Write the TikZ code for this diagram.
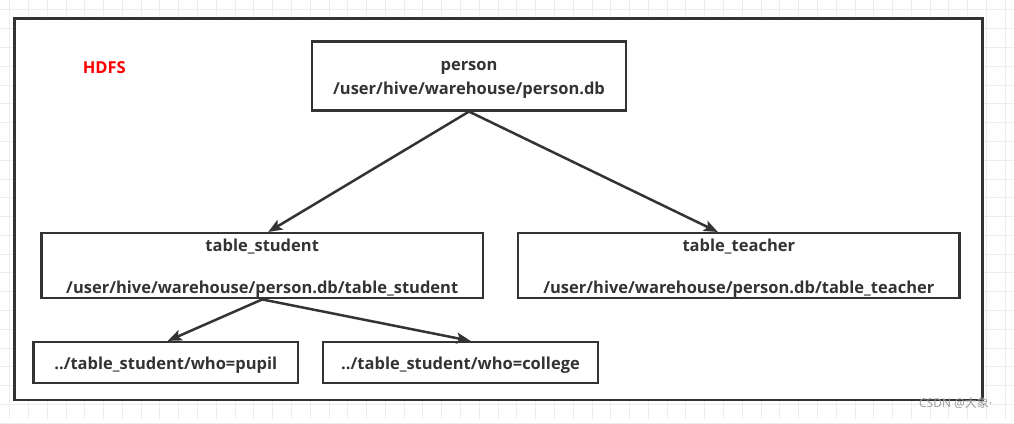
\documentclass[tikz,border=0pt]{standalone}
\usepackage{fontspec}
\setmainfont{Open Sans}
\newfontfamily\cjk{Noto Sans CJK SC}
\usetikzlibrary{arrows.meta}
\definecolor{ink}{HTML}{333333}
\definecolor{gridline}{HTML}{EDEDED}
\newcommand\boxstrut{\rule[-5pt]{0pt}{23pt}}
\begin{document}
\begin{tikzpicture}[x=1pt,y=-1pt, line width=2.5pt, font=\fontsize{16.5}{21}\selectfont\bfseries,
 box/.style={draw=ink, text=ink, inner sep=0pt, align=center, minimum width=#1},
 arr/.style={draw=ink, -{Stealth[length=14pt,width=11pt,inset=3pt]}}]
% background grid
\fill[white] (0,0) rectangle (1014,419);
\foreach \k in {0,...,53} \draw[gridline, line width=.8pt] (9.2+18.8*\k,0) -- +(0,419);
\foreach \k in {0,...,22} \draw[gridline, line width=.8pt] (0,9.5+18.8*\k) -- +(1014,0);
\draw[ink, fill=white] (14,18) rectangle (983,400);
\node[text=red] (hdfs) at (104,67) {HDFS};
% boxes
\node[box=314, minimum height=69] (person) at (469,75.5) {\boxstrut person\\/user/hive/warehouse/person.db\boxstrut};
\node[box=442, minimum height=65] (student) at (262,265.5) {\boxstrut table\_student\\ \\/user/hive/warehouse/person.db/table\_student\boxstrut};
\node[box=442, minimum height=65] (teacher) at (739,265.5) {\boxstrut table\_teacher\\ \\/user/hive/warehouse/person.db/table\_teacher\boxstrut};
\node[box=265, minimum height=41] (pupil) at (165.5,362.5) {\boxstrut../table\_student/who=pupil};
\node[box=275, minimum height=41] (college) at (460.5,362.5) {\boxstrut../table\_student/who=college};
% arrows
\foreach \a/\b/\s in {person/student/6, person/teacher/-21, student/pupil/2, student/college/10}
  \draw[arr] (\a.south) -- ([xshift=\s]\b.north);
\node[text=black!40, font=\fontsize{12}{12}\selectfont] (mark) at (956,403) {CSDN @{\cjk 大象}·};
\end{tikzpicture}
\end{document}
